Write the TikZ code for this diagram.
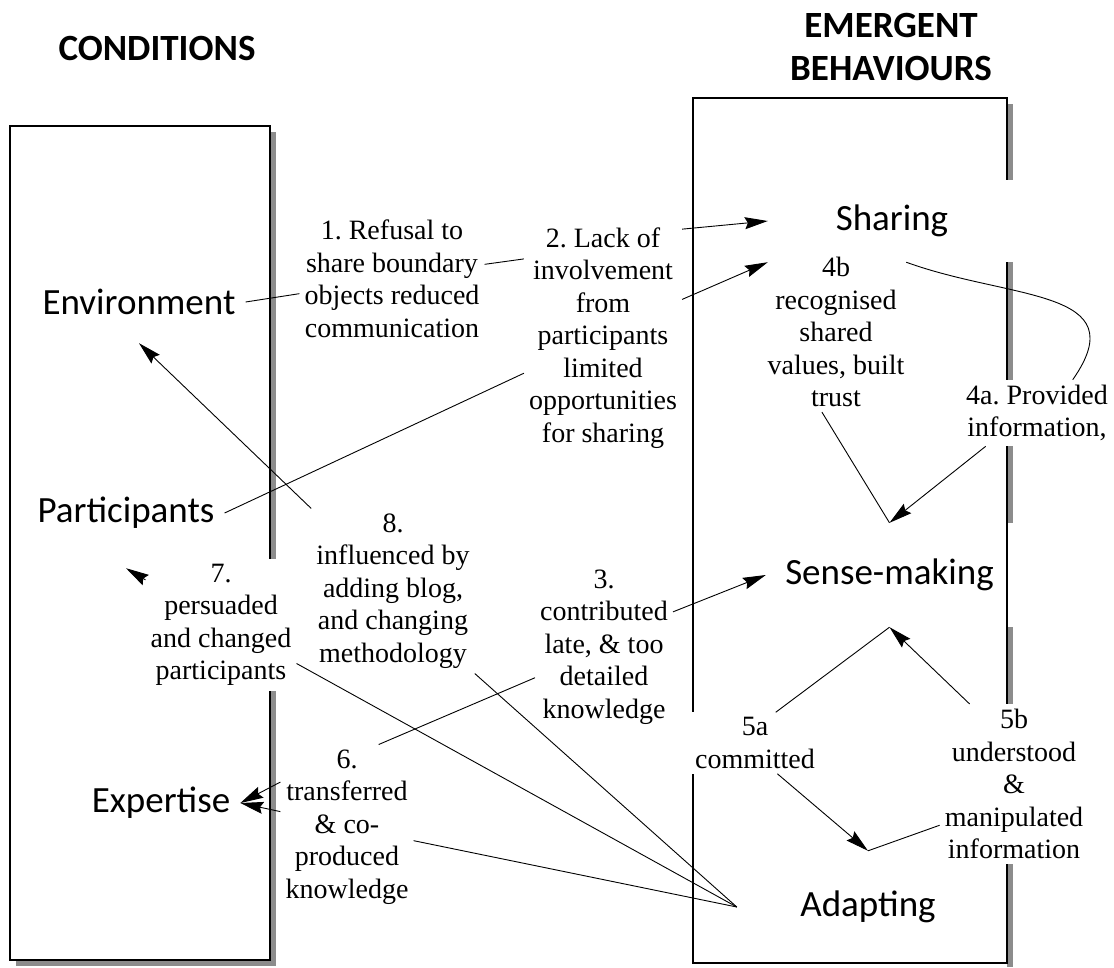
\documentclass[tikz,border=0pt]{standalone}
\usepackage{fontspec}
\setmainfont{Liberation Serif}
\newfontfamily\calibri{Carlito}
\usetikzlibrary{arrows.meta}
\frenchspacing

\begin{document}
\begin{tikzpicture}
	[x=1pt, y=1pt]
	
	\tikzstyle{heading} = [font=\calibri\bfseries\fontsize{37}{43}\selectfont, align=center]
	
	\tikzstyle{cond} = [font=\calibri\fontsize{37}{44}\selectfont, inner xsep=10pt, minimum height=82pt]
	
	\tikzstyle{behav} = [font=\calibri\fontsize{37}{44}\selectfont, fill=white, inner sep=0pt]
	
	\tikzstyle{note} = [font=\fontsize{28}{32.5}\selectfont, align=center, fill=white, inner sep=5pt]
	
	\tikzstyle{boxline} = [line width=1.3pt, draw=black]
	\tikzstyle{shadowfill} = [fill=black!45]
	\tikzstyle{link} = [line width=0.9pt]
	\tikzstyle{arrow} = [line width=0.9pt, -{Stealth[length=23pt, width=12pt, inset=3pt]}]
	
	\path [use as bounding box, fill=white] (0,0) rectangle (1114,-967);
	
	\node (hcond) [heading] at (157,-48) {CONDITIONS};
	\node (hemerg) [heading] at (891,-47) {EMERGENT\\BEHAVIOURS};
	
	\fill [shadowfill] (270,-132) rectangle (276,-966);
	\fill [shadowfill] (16,-960) rectangle (276,-966);
	\fill [shadowfill] (1007,-104) rectangle (1013,-967);
	\node (sense) [behav, minimum width=247pt, minimum height=104pt] at (889.5,-575) {Sense-making};
	\draw [boxline] (10,-126) rectangle (270,-960);
	\draw [boxline] (693,-98) rectangle (1007,-963);
	
	\node (env) [cond] at (139,-302) {Environment};
	\node (part) [cond, minimum height=110pt] at (126,-513) {Participants};
	\node (exp) [cond] at (161,-803) {Expertise};
	
	\node (shr) [behav, minimum width=248pt, minimum height=82pt] at (892,-221) {Sharing};
	\node (adapt) [behav, fill=none, minimum width=262pt, minimum height=112pt] at (868,-907) {Adapting};
	
	\node (n1) [note] at (392,-279) {1. Refusal to\\share boundary\\objects reduced\\communication};
	\node (n2) [note] at (603,-338) {2. Lack of\\involvement\\from\\participants\\limited\\opportunities\\for sharing};
	\node (n3) [note] at (604,-647) {3.\\contributed\\late, \& too\\detailed\\knowledge};
	\node (n4b) [note] at (836,-332) {4b\\recognised\\shared\\values, built\\trust};
	\node (n4a) [note] at (1037,-413) {4a. Provided\\information,};
	\node (n5a) [note] at (755,-743) {5a\\committed};
	\node (n5b) [note] at (1014,-784) {5b\\understood\\\&\\manipulated\\information};
	\node (n6) [note] at (347,-827) {6.\\transferred\\\& co-\\produced\\knowledge};
	\node (n7) [note] at (221,-625) {7.\\persuaded\\and changed\\participants};
	\node (n8) [note] at (393,-591) {8.\\influenced by\\adding blog,\\and changing\\methodology};
	
	\draw [link] (env.east) -- (n1.189);
	\draw [link] (n1.9) -- (n2.135);
	\draw [link] (part.east) -- (n2.204);
	\draw [arrow] (n2.54) -- (shr.west);
	\draw [arrow] (n2.26) -- (shr.south west);
	\draw [link] (shr.-71) to [out=-20, in=55, looseness=1.4] (n4a.43);
	\draw [link] (n4b.260) -- (sense.north);
	\draw [arrow] (n4a.213) -- (sense.north);
	\draw [arrow] (n3.27) -- (sense.west);
	\draw [link] (n5a.56) -- (sense.south);
	\draw [arrow] (n5b.119) -- (sense.south);
	\draw [arrow] (n5a.-54) -- (adapt.north);
	\draw [link] (n5b.209) -- (adapt.north);
	\draw [link] (n7.-27) -- (adapt.west);
	\draw [link] (n8.south east) -- (adapt.west);
	\draw [link] (n6) -- (adapt.west);
	\draw [link] (n3.204) -- (n6.69);
	\draw [arrow] (n8.north west) -- (env.south);
	\draw [arrow] (n7) -- (part.south);
	\draw [arrow] (n6.146) -- (exp.east);
	\draw [arrow] (n6.167) -- (exp.east);
	
\end{tikzpicture}
\end{document}
